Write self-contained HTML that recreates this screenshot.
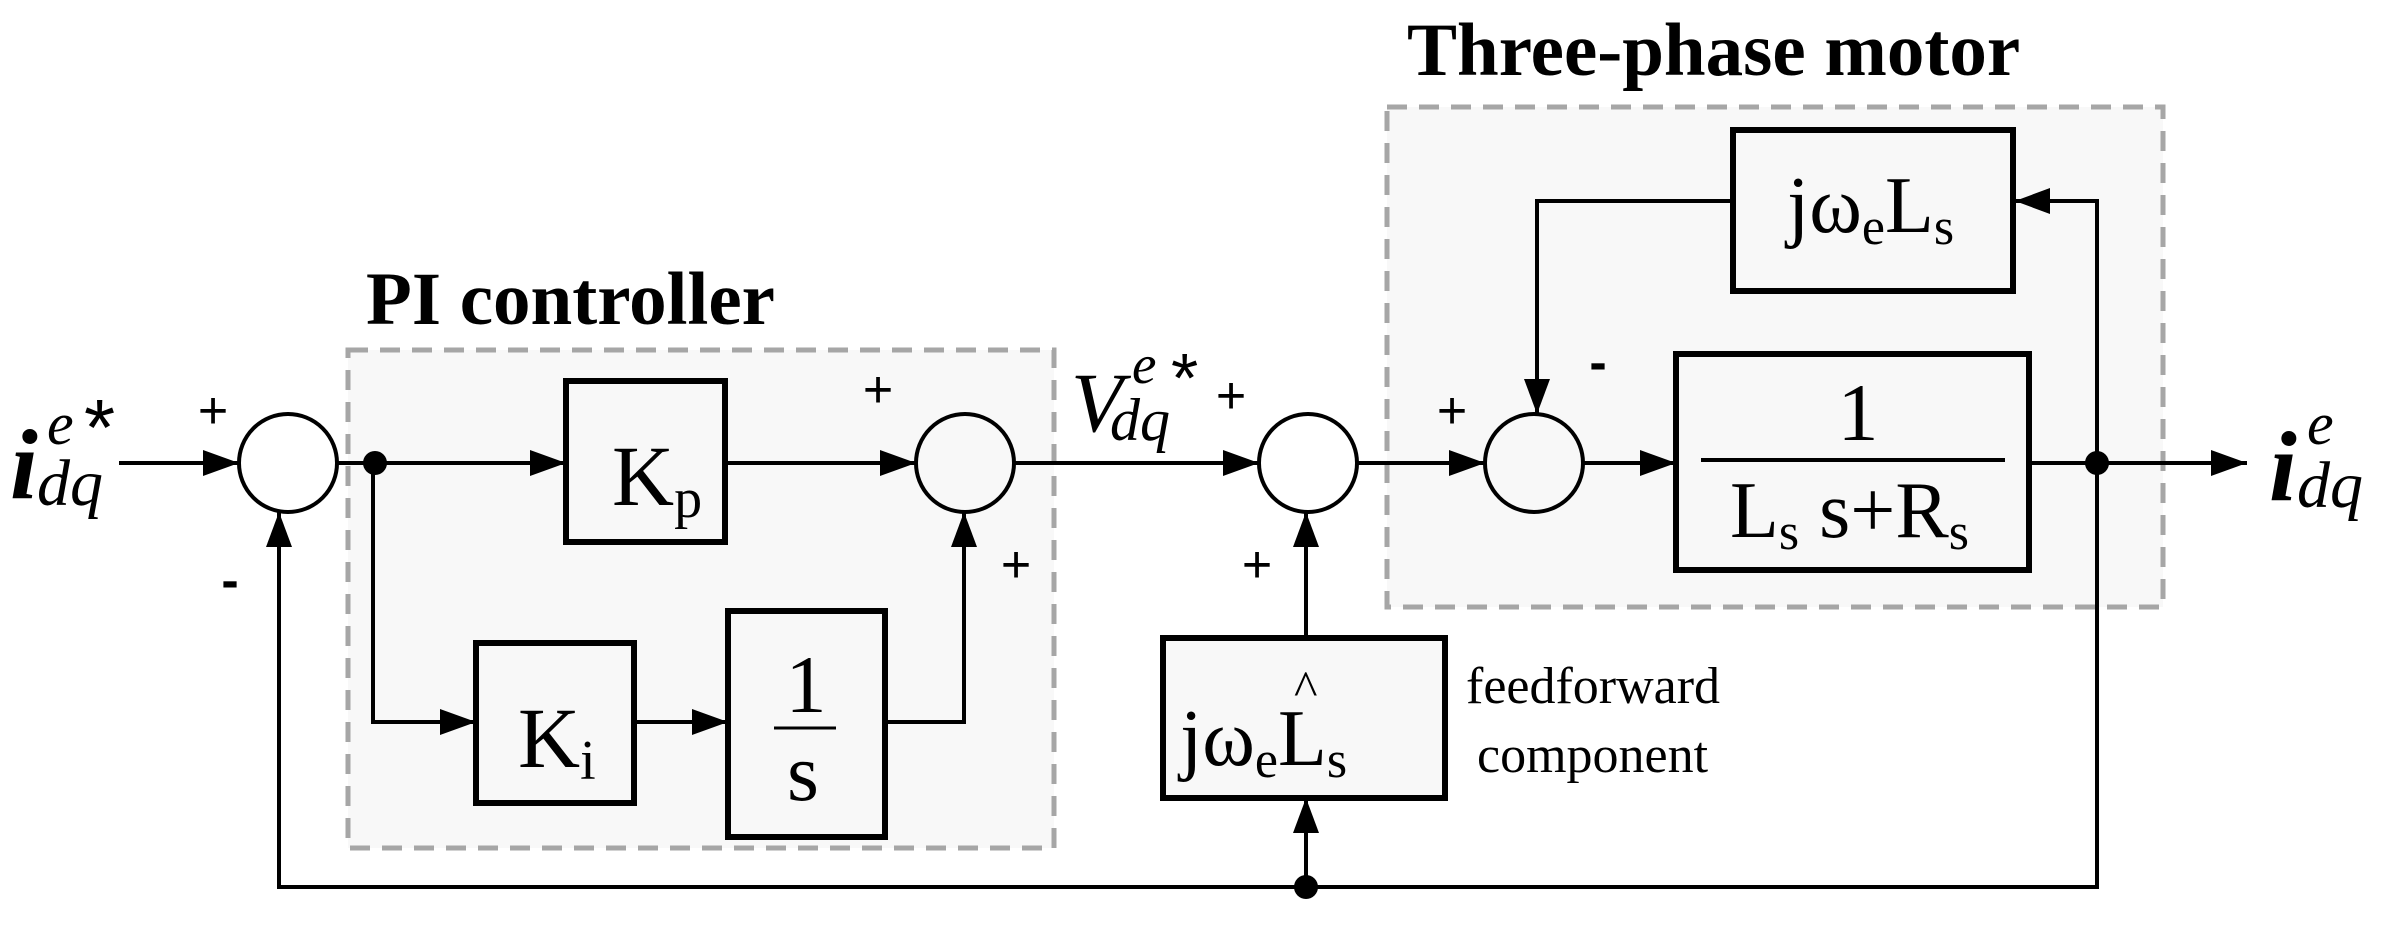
<!DOCTYPE html>
<html><head><meta charset="utf-8"><style>html,body{margin:0;padding:0;background:#fff}svg{display:block}</style></head>
<body>
<svg width="2400" height="946" viewBox="0 0 2400 946" xmlns="http://www.w3.org/2000/svg" font-family="Liberation Serif, serif">
<rect width="2400" height="946" fill="#fff"/>
<!-- dashed groups -->
<rect x="348" y="350" width="706" height="498" fill="#f8f8f8" stroke="#a6a6a6" stroke-width="5" stroke-dasharray="20 12"/>
<rect x="1387" y="107" width="776" height="500" fill="#f8f8f8" stroke="#a6a6a6" stroke-width="5" stroke-dasharray="20 12"/>
<text x="366" y="324" font-size="75" font-weight="bold">PI controller</text>
<text x="1407" y="75" font-size="75" font-weight="bold">Three-phase motor</text>

<g stroke="#000" stroke-width="4" fill="none">
<line x1="119" y1="463" x2="239" y2="463"/>
<line x1="337" y1="463" x2="566" y2="463"/>
<line x1="725" y1="463" x2="916" y2="463"/>
<line x1="1014" y1="463" x2="1259" y2="463"/>
<line x1="1357" y1="463" x2="1485" y2="463"/>
<line x1="1583" y1="463" x2="1676" y2="463"/>
<line x1="2029" y1="463" x2="2247" y2="463"/>
<polyline points="373,463 373,722 476,722"/>
<line x1="634" y1="722" x2="728" y2="722"/>
<polyline points="885,722 964,722 964,512"/>
<polyline points="2097,463 2097,887 279,887 279,512"/>
<line x1="1306" y1="887" x2="1306" y2="798"/>
<line x1="1306" y1="638" x2="1306" y2="512"/>
<polyline points="2097,463 2097,201 2015,201"/>
<polyline points="1733,201 1537,201 1537,414"/>
<circle cx="288" cy="463" r="49"/>
<circle cx="965" cy="463" r="49"/>
<circle cx="1308" cy="463" r="49"/>
<circle cx="1534" cy="463" r="49"/>
</g>
<g fill="#f8f8f8" stroke="#000" stroke-width="6">
<rect x="566" y="381" width="159" height="161"/>
<rect x="476" y="643" width="158" height="160"/>
<rect x="728" y="611" width="157" height="226"/>
<rect x="1733" y="130" width="280" height="161"/>
<rect x="1676" y="354" width="353" height="216"/>
<rect x="1163" y="638" width="282" height="160"/>
</g>
<!-- arrowheads -->
<g fill="#000">
<polygon points="239,463 203,450 203,476"/>
<polygon points="566,463 530,450 530,476"/>
<polygon points="916,463 880,450 880,476"/>
<polygon points="1259,463 1223,450 1223,476"/>
<polygon points="1485,463 1449,450 1449,476"/>
<polygon points="1676,463 1640,450 1640,476"/>
<polygon points="2247,463 2211,450 2211,476"/>
<polygon points="476,722 440,709 440,735"/>
<polygon points="728,722 692,709 692,735"/>
<polygon points="964,512 951,547 977,547"/>
<polygon points="279,512 266,547 292,547"/>
<polygon points="1306,798 1293,833 1319,833"/>
<polygon points="1306,512 1293,547 1319,547"/>
<polygon points="2015,201 2050,188 2050,214"/>
<polygon points="1537,414 1524,379 1550,379"/>
<circle cx="375" cy="463" r="12"/>
<circle cx="2097" cy="463" r="12"/>
<circle cx="1306" cy="887" r="12"/>
</g>
<!-- signs -->
<g font-family="Liberation Sans, sans-serif" font-size="52" text-anchor="middle">
<text x="213" y="428">+</text>
<text x="878" y="407">+</text>
<text x="1016" y="582">+</text>
<text x="1231" y="413">+</text>
<text x="1257" y="582">+</text>
<text x="1452" y="428">+</text>
<text x="230" y="598" font-weight="bold">-</text>
<text x="1598" y="380" font-weight="bold">-</text>
</g>
<!-- box labels -->
<text x="612" y="505" font-size="86">K<tspan font-size="56" dy="12">p</tspan></text>
<text x="518" y="767" font-size="86">K<tspan font-size="56" dy="12">i</tspan></text>
<text x="806" y="712" font-size="82" text-anchor="middle">1</text>
<line x1="774" y1="728" x2="836" y2="728" stroke="#000" stroke-width="3"/>
<text x="803" y="800" font-size="82" text-anchor="middle">s</text>
<text x="1787" y="232" font-size="80">jω<tspan font-size="52" dy="12">e</tspan><tspan dy="-12">L</tspan><tspan font-size="52" dy="12">s</tspan></text>
<text x="1858" y="440" font-size="82" text-anchor="middle">1</text>
<line x1="1701" y1="460" x2="2005" y2="460" stroke="#000" stroke-width="4"/>
<text x="1730" y="537" font-size="80">L<tspan font-size="52" dy="12">s</tspan><tspan dy="-12" font-size="80"> s+R</tspan><tspan font-size="52" dy="12">s</tspan></text>
<text x="1180" y="765" font-size="80">jω<tspan font-size="52" dy="12">e</tspan><tspan dy="-12">L</tspan><tspan font-size="52" dy="12">s</tspan></text>
<text x="1294" y="705" font-size="50">^</text>
<text x="1466" y="703" font-size="52">feedforward</text>
<text x="1477" y="772" font-size="52">component</text>
<!-- signal labels -->
<g font-style="italic">
<text x="10" y="498" font-size="100" font-weight="bold">i</text>
<text x="37" y="505" font-size="66">dq</text>
<text x="47" y="444" font-size="60">e</text>
<text x="84" y="455" font-size="80" font-style="normal" font-family="Liberation Sans, sans-serif">*</text>
<text x="1071" y="431" font-size="85">V</text>
<text x="1110" y="440" font-size="60">dq</text>
<text x="1132" y="383" font-size="55">e</text>
<text x="1171" y="402" font-size="70" font-style="normal" font-family="Liberation Sans, sans-serif">*</text>
<text x="2269" y="500" font-size="100" font-weight="bold">i</text>
<text x="2297" y="507" font-size="66">dq</text>
<text x="2307" y="444" font-size="60">e</text>
</g>
</svg>
</body></html>
